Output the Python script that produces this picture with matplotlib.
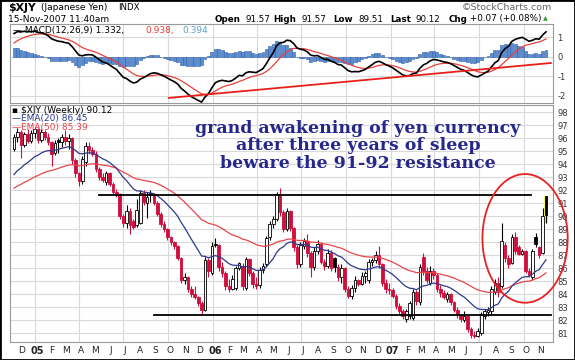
import numpy as np
import matplotlib
matplotlib.use('Agg')
import matplotlib.pyplot as plt
import matplotlib.dates as mdates
from matplotlib.patches import Ellipse, Rectangle

plt.rcParams['font.family'] = ['DejaVu Sans']
plt.rcParams['axes.unicode_minus'] = False

# weekly bars, one per Friday, 19-Nov-2004 .. 16-Nov-2007
first_week = '2004-11-19'
last_week = '2007-11-16'

opens = [95.2, 96.1, 96.5, 95.5, 96.3, 95.8, 96.4, 96.7, 95.9, 96.5,
         96.1, 95.7, 94.9, 95.9, 95.7, 96.1, 95.8, 96.0, 94.3, 93.3,
         92.7, 94.2, 95.4, 95.1, 94.8, 93.6, 93.0, 92.6, 93.3, 92.5,
         91.9, 91.7, 90.0, 89.5, 90.4, 89.6, 89.3, 89.5, 91.8, 91.0,
         91.8, 91.6, 91.0, 90.2, 89.4, 89.0, 88.4, 88.0, 87.7, 86.8,
         85.1, 85.3, 84.4, 84.0, 83.8, 83.3, 82.8, 86.6, 85.6, 87.9,
         87.8, 86.1, 85.6, 84.6, 84.4, 84.5, 86.0, 86.2, 84.5, 86.7,
         85.6, 84.8, 84.7, 85.9, 86.3, 88.4, 89.4, 89.8, 91.7, 90.3,
         89.0, 90.4, 89.1, 87.6, 86.3, 87.7, 88.1, 87.2, 86.1, 87.3,
         87.9, 86.5, 86.2, 87.2, 86.8, 86.1, 85.3, 86.0, 84.4, 83.9,
         84.5, 85.1, 84.8, 85.4, 85.1, 86.5, 86.6, 87.0, 86.3, 84.9,
         84.4, 84.3, 83.9, 83.1, 82.7, 82.1, 82.3, 82.2, 84.2, 83.4,
         86.9, 85.8, 84.9, 85.8, 85.5, 84.4, 84.1, 83.6, 84.0, 83.4,
         82.8, 82.4, 82.0, 82.3, 81.3, 80.9, 80.8, 81.0, 82.3, 82.6,
         82.7, 84.2, 84.9, 84.6, 87.8, 86.8, 86.4, 88.4, 87.6, 87.1,
         87.3, 85.8, 85.3, 88.4, 87.6, 87.2, 91.57]
highs = [96.3, 96.8, 96.6, 96.5, 96.7, 96.6, 96.9, 96.8, 96.7, 96.6,
         96.4, 95.8, 95.9, 96.0, 96.3, 96.6, 96.3, 96.1, 94.5, 93.4,
         94.6, 95.7, 95.7, 95.3, 95.0, 93.8, 93.3, 93.5, 93.4, 92.6,
         92.1, 91.8, 90.2, 90.9, 90.6, 89.8, 91.3, 92.0, 92.0, 91.9,
         92.0, 91.8, 91.2, 90.3, 89.6, 89.1, 88.5, 88.1, 87.8, 86.9,
         85.6, 85.4, 84.6, 84.6, 83.9, 83.5, 86.9, 86.8, 88.0, 88.3,
         87.9, 86.5, 85.8, 85.2, 85.5, 86.2, 86.5, 86.4, 86.9, 86.8,
         85.8, 85.3, 86.1, 86.4, 88.5, 89.6, 90.0, 91.9, 92.2, 90.5,
         90.6, 90.5, 89.2, 87.8, 88.0, 88.3, 88.6, 87.3, 87.6, 88.2,
         88.0, 86.7, 87.5, 87.4, 86.9, 86.3, 86.3, 86.1, 84.6, 84.7,
         85.4, 85.2, 85.7, 85.8, 86.7, 86.8, 87.3, 87.7, 86.4, 85.2,
         84.9, 84.5, 84.0, 83.3, 82.9, 82.9, 83.5, 84.4, 84.3, 86.3,
         87.2, 86.1, 86.2, 86.0, 85.6, 84.7, 84.3, 84.2, 84.1, 83.5,
         83.0, 82.5, 82.7, 82.4, 81.5, 81.2, 81.4, 82.6, 82.9, 83.0,
         84.6, 85.2, 85.3, 89.5, 88.0, 87.0, 88.6, 88.8, 87.8, 87.5,
         87.4, 86.0, 87.5, 88.7, 87.7, 90.6, 91.57]
lows = [95.0, 95.7, 94.5, 95.3, 95.6, 95.6, 96.0, 95.6, 95.7, 95.9,
        95.5, 93.9, 94.7, 94.9, 95.3, 95.5, 95.2, 94.0, 93.0, 92.3,
        92.5, 93.9, 94.8, 94.6, 93.4, 92.8, 92.6, 92.4, 92.3, 91.7,
        91.5, 89.8, 89.2, 89.1, 88.6, 89.0, 89.2, 89.4, 90.9, 89.9,
        91.1, 90.9, 90.0, 89.2, 88.8, 88.2, 87.8, 87.5, 86.6, 84.9,
        84.8, 84.2, 83.8, 83.6, 83.1, 82.4, 82.7, 85.3, 85.5, 87.6,
        85.8, 85.3, 84.3, 84.2, 84.3, 84.3, 85.9, 84.3, 84.3, 85.4,
        84.5, 84.4, 84.5, 85.6, 86.2, 88.2, 89.1, 89.6, 90.0, 88.8,
        88.9, 88.9, 87.3, 86.0, 86.1, 87.5, 86.9, 85.3, 85.9, 87.1,
        86.3, 85.9, 86.0, 85.8, 85.7, 85.0, 84.9, 84.2, 83.7, 83.6,
        84.2, 84.6, 84.7, 84.9, 84.9, 86.2, 86.4, 86.0, 84.6, 84.1,
        84.0, 83.7, 82.9, 82.5, 82.1, 81.9, 82.1, 82.0, 83.2, 83.2,
        85.5, 84.9, 84.7, 85.2, 84.2, 83.8, 83.6, 83.4, 83.2, 82.6,
        82.2, 81.9, 81.9, 81.1, 80.6, 80.6, 80.7, 80.9, 82.1, 82.3,
        82.4, 84.0, 83.8, 84.5, 86.5, 86.0, 86.3, 87.1, 87.0, 87.0,
        85.6, 85.3, 85.1, 87.6, 86.8, 87.1, 89.51]
closes = [96.1, 96.5, 95.5, 96.3, 95.8, 96.4, 96.7, 95.9, 96.5, 96.1,
          95.7, 94.8, 95.6, 95.7, 96.1, 95.8, 96.0, 94.3, 93.3, 92.7,
          94.4, 95.4, 95.1, 94.8, 93.6, 93.0, 92.8, 93.3, 92.5, 91.9,
          91.7, 90.0, 89.5, 90.4, 89.3, 89.2, 90.5, 91.8, 91.1, 91.5,
          91.6, 91.0, 90.2, 89.4, 89.0, 88.4, 88.0, 87.7, 86.8, 85.1,
          85.3, 84.4, 84.0, 83.8, 83.3, 82.8, 86.6, 85.8, 87.7, 87.8,
          86.1, 85.6, 84.6, 84.4, 85.2, 86.0, 86.4, 84.6, 86.7, 85.6,
          84.8, 84.6, 85.9, 86.2, 88.3, 89.4, 89.8, 91.7, 90.3, 89.0,
          90.4, 89.1, 87.6, 86.3, 87.8, 88.1, 87.2, 86.1, 87.3, 87.9,
          86.5, 86.2, 87.2, 86.0, 86.1, 85.3, 86.0, 84.4, 83.9, 84.5,
          85.1, 84.8, 85.4, 85.6, 86.5, 86.6, 87.0, 86.3, 84.9, 84.4,
          84.3, 83.9, 83.1, 82.7, 82.3, 82.7, 83.3, 84.2, 83.5, 86.1,
          85.8, 85.1, 85.8, 85.5, 84.4, 84.1, 83.8, 84.0, 83.4, 82.8,
          82.4, 82.1, 82.3, 81.3, 80.9, 80.8, 81.2, 82.4, 82.7, 82.8,
          84.4, 84.9, 84.2, 88.1, 86.8, 86.3, 88.4, 87.3, 87.1, 87.3,
          85.8, 85.5, 87.3, 87.9, 87.0, 90.05, 90.12]

# moving-average values carried in from the weeks before the first bar
ema20_seed = 92.9
ema50_seed = 92.0
ema12_seed = 93.8
ema26_seed = 92.7
signal_seed = 0.6

# hand-drawn lines on the chart
resistance_level = 91.65
resistance_dates = ['2005-05-13', '2007-10-16']
support_level = 82.4
support_dates = ['2005-09-02', '2007-11-26']
macd_trend_dates = ['2005-10-03', '2007-11-26']
macd_trend_values = [-2.1, -0.31]
circle_center = ('2007-10-04', 88.3)
circle_size = (175, 9.9)  # days, price units

price_ticks = list(range(81, 99))
macd_ticks = [1, 0, -1, -2]
note_lines = ['grand awakening of yen currency',
              'after three years of sleep',
              'beware the 91-92 resistance']

RED = '#cf0e3c'
W, H = 575, 360


def ema(values, span, seed):
    k = 2.0 / (span + 1)
    out, prev = [], seed
    for v in values:
        prev = prev + k * (v - prev)
        out.append(prev)
    return np.array(out)


def dnum(s):
    return mdates.date2num(np.datetime64(s))


def px(x, y):
    return x / W, 1 - y / H


o = np.array(opens); h = np.array(highs); l = np.array(lows); c = np.array(closes)
weeks = np.arange(np.datetime64(first_week), np.datetime64(last_week) + 1, np.timedelta64(7, 'D'))
x = mdates.date2num(weeks)

ema20 = ema(c, 20, ema20_seed)
ema50 = ema(c, 50, ema50_seed)
macd = ema(c, 12, ema12_seed) - ema(c, 26, ema26_seed)
signal = ema(macd, 9, signal_seed)
hist = macd - signal

fig = plt.figure(figsize=(W / 100, H / 100), dpi=100)
ax_m = fig.add_axes([10 / W, 1 - 103 / H, 543 / W, 79 / H])
ax_p = fig.add_axes([10 / W, 1 - 342 / H, 543 / W, 237 / H])

jan05 = dnum('2005-01-01')
day_px = 511 / 1049.0
xlim = (jan05 - 25 / day_px, dnum(last_week) + 7 / day_px)

months = np.arange(np.datetime64('2004-12'), np.datetime64('2007-12'))
mnum = months.astype(int)
month_no = mnum % 12 + 1
month_x = mdates.date2num(months.astype('datetime64[D]'))
month_lbl = ['%02d' % ((n // 12 + 1970) % 100) if m == 1 else 'JFMAMJJASOND'[m - 1]
             for n, m in zip(mnum, month_no)]
quarter_x = month_x[np.isin(month_no, [1, 4, 7, 10])]

for ax in (ax_m, ax_p):
    ax.set_xlim(*xlim)
    for q in quarter_x:
        ax.axvline(q, color='#d9d9d9', lw=0.8, zorder=0)
    ax.yaxis.tick_right()
    ax.tick_params(axis='y', length=0, pad=3, labelsize=6, labelcolor='#333333')
    ax.yaxis.grid(True, color='#d9d9d9', lw=0.8)
    ax.set_axisbelow(True)
    for s in ax.spines.values():
        s.set_color('#9a9a9a')
        s.set_linewidth(0.8)

# ---- MACD panel ----
ax_m.bar(x, hist, width=6, color='#5b8bd0', edgecolor='#2d5fa8', lw=0.4, zorder=2)
ax_m.plot(x, signal, color='#e8403a', lw=0.9, zorder=3)
ax_m.plot(x, macd, color='black', lw=1.2, zorder=4)
ax_m.plot([dnum(d) for d in macd_trend_dates], macd_trend_values, color='#e8201a', lw=1.3, zorder=5)
ax_m.set_ylim(-2.36, 1.69)
ax_m.set_yticks(macd_ticks)
ax_m.set_xticks([])
ax_m.text(0.006, 0.97, '\u2014 MACD(12,26,9) 1.332,', transform=ax_m.transAxes, fontsize=6.5, va='top', ha='left')
ax_m.text(135 / 543, 0.97, '0.938,', transform=ax_m.transAxes, fontsize=6.5, va='top', color='#e8403a')
ax_m.text(172 / 543, 0.97, '0.394', transform=ax_m.transAxes, fontsize=6.5, va='top', color='#5aa0c8')

# ---- price panel ----
up = c >= np.r_[o[0], c[:-1]]
col = np.where(up, 'black', RED)
hollow = c > o
ax_p.vlines(x, l, h, colors=col, lw=0.8, zorder=3)
ax_p.bar(x[-1], h[-1] - l[-1], bottom=l[-1], width=8, color='#ffff33', zorder=2.5)
ax_p.bar(x, np.maximum(np.abs(c - o), 0.06), bottom=np.minimum(o, c), width=5.4,
         facecolor=np.where(hollow, 'white', col), edgecolor=col, lw=0.6, zorder=4)
ax_p.plot(x, ema50, color='#e8454a', lw=0.9, zorder=5)
ax_p.plot(x, ema20, color='#2d3a8c', lw=0.9, zorder=5)
ax_p.plot([dnum(d) for d in resistance_dates], [resistance_level] * 2, color='black', lw=1.3, zorder=6)
ax_p.plot([dnum(d) for d in support_dates], [support_level] * 2, color='black', lw=1.3, zorder=6)
ax_p.add_patch(Ellipse((dnum(circle_center[0]), circle_center[1]), circle_size[0], circle_size[1],
                       fill=False, ec='#e52222', lw=1.3, zorder=7, clip_on=False))
ax_p.set_ylim(80.33, 98.56)
ax_p.set_yticks(price_ticks)
ax_p.set_xticks(month_x + 4)
ax_p.set_xticklabels(month_lbl)
ax_p.tick_params(axis='x', length=0, pad=3, labelsize=6.5, labelcolor='#222222')
for t in ax_p.get_xticklabels():
    if t.get_text().isdigit():
        t.set_fontweight('bold')
        t.set_fontsize(7)

ax_p.text(0.004, 0.995, '\u25aa $XJY (Weekly) 90.12', transform=ax_p.transAxes, fontsize=6.5, va='top', zorder=8)
ax_p.text(0.004, 0.96, '\u2014EMA(20) 86.45', transform=ax_p.transAxes, fontsize=6.5, va='top',
          color='#2d3a8c', zorder=8)
ax_p.text(0.004, 0.925, '\u2014EMA(50) 85.39', transform=ax_p.transAxes, fontsize=6.5, va='top',
          color='#e8454a', zorder=8)

for line, yy in zip(note_lines, [128, 146, 164]):
    fig.text(*px(358, yy), line, ha='center', va='center', fontsize=12.5, fontweight='bold',
             family='DejaVu Serif', color='#26278c')

# ---- header ----
fig.text(*px(8, 8), '$XJY', fontsize=7.8, fontweight='bold', va='center')
fig.text(*px(41, 8), '(Japanese Yen)', fontsize=6.5, va='center')
fig.text(*px(118, 8), 'INDX', fontsize=6.2, va='center')
fig.text(*px(8, 19), '15-Nov-2007 11:40am', fontsize=6.5, va='center')
fig.text(*px(552, 8), '\u00a9StockCharts.com', fontsize=6.8, va='center', ha='right', color='#666666')
header = [(215, 'Open', True), (245, '91.57', False), (273, 'High', True), (301, '91.57', False),
          (333, 'Low', True), (358, '89.51', False), (390, 'Last', True), (416, '90.12', False),
          (449, 'Chg', True), (470, '+0.07 (+0.08%)', False)]
for xx, s, b in header:
    fig.text(*px(xx, 19), s, fontsize=6.3, va='center', fontweight='bold' if b else 'normal')
fig.text(*px(543, 19), '\u25b2', fontsize=4.5, va='center', color='#2a9a2a')

fig.add_artist(Rectangle((0, 0), 1, 1, transform=fig.transFigure, fill=False, ec='black', lw=2))

fig.savefig('out.png', dpi=100)
